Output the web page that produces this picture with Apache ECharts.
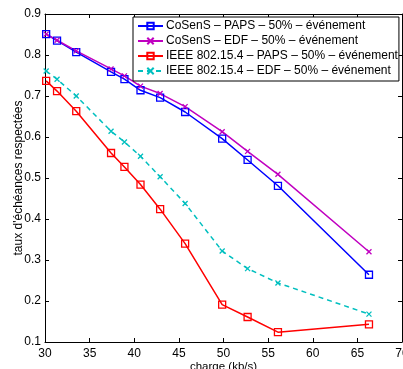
<!DOCTYPE html>
<html>
<head>
<meta charset="utf-8">
<script src="https://cdn.jsdelivr.net/npm/echarts@6/dist/echarts.min.js"></script>
<style>
html,body{margin:0;padding:0;background:#fff;}
#c{width:403px;height:369px;}
</style>
</head>
<body>
<div id="c"></div>
<script>
const xVals = [30.13, 31.35, 33.5, 37.4, 38.9, 40.7, 42.9, 45.7, 49.85, 52.7, 56.1, 66.3];
const cosensPaps = [0.851, 0.835, 0.807, 0.759, 0.741, 0.714, 0.696, 0.661, 0.596, 0.544, 0.481, 0.264];
const cosensEdf = [0.851, 0.836, 0.810, 0.766, 0.749, 0.724, 0.706, 0.674, 0.613, 0.565, 0.509, 0.320];
const ieeePaps = [0.737, 0.712, 0.663, 0.561, 0.527, 0.484, 0.424, 0.340, 0.191, 0.161, 0.124, 0.143];
const ieeeEdf = [0.761, 0.741, 0.700, 0.614, 0.588, 0.553, 0.503, 0.438, 0.322, 0.279, 0.244, 0.168];
const seriesNames = [
  'CoSenS – PAPS – 50% – événement',
  'CoSenS – EDF – 50% – événement',
  'IEEE 802.15.4 – PAPS – 50% – événement',
  'IEEE 802.15.4 – EDF – 50% – événement'
];
const xName = 'charge (kb/s)';
const yName = "taux d'échéances respectées";

const FONT = '"Liberation Sans", Arial, Helvetica, sans-serif';
const xMark = 'path://M0,0L10,10M10,0L0,10';
function pts(ys){ return ys.map((y,i)=>[xVals[i], y]); }
function mk(name, ys, color, symbol, dashed){
  const isX = symbol === 'x';
  return {
    name: name, type: 'line', data: pts(ys),
    symbol: isX ? xMark : 'rect',
    symbolSize: isX ? 5 : 7,
    showAllSymbol: true,
    lineStyle: {color: color, width: 1.5, type: dashed ? [5,4] : 'solid'},
    itemStyle: {color: 'rgba(255,255,255,0)', borderColor: color, borderWidth: 1.3},
    emphasis: {disabled: true},
    animation: false
  };
}
const chart = echarts.init(document.getElementById('c'));
const axisCommon = {
  type: 'value',
  axisLine: {show: true, lineStyle: {color: '#000', width: 1}},
  axisTick: {show: true, inside: true, length: 4, lineStyle: {color: '#000'}},
  splitLine: {show: false}
};
chart.setOption({
  backgroundColor: '#fff',
  animation: false,
  textStyle: {fontFamily: FONT},
  grid: {left: 45, right: 1, top: 14, bottom: 27, containLabel: false, outerBoundsMode: 'none'},
  legend: {
    orient: 'vertical', left: 133, top: 17,
    padding: [2, 1, 3, 4],
    itemGap: 1,
    itemWidth: 25, itemHeight: 8,
    backgroundColor: '#fff', borderColor: '#000', borderWidth: 1, borderRadius: 0,
    textStyle: {fontFamily: FONT, fontSize: 12, color: '#000', lineHeight: 14, padding: [0,0,0,-2]},
    data: seriesNames
  },
  xAxis: [
    Object.assign({}, axisCommon, {
      min: 30, max: 70, interval: 5, position: 'bottom',
      name: xName, nameLocation: 'middle', nameGap: 19, nameMoveOverlap: false,
      nameTextStyle: {fontFamily: FONT, fontSize: 11.5, color: '#000'},
      axisLabel: {fontFamily: FONT, fontSize: 12, color: '#000', margin: 6}
    }),
    Object.assign({}, axisCommon, {
      min: 30, max: 70, interval: 5, position: 'top',
      axisLabel: {show: false}
    })
  ],
  yAxis: [
    Object.assign({}, axisCommon, {
      min: 0.1, max: 0.9, interval: 0.1, position: 'left',
      name: yName, nameLocation: 'middle', nameGap: 20, nameMoveOverlap: false,
      nameTextStyle: {fontFamily: FONT, fontSize: 12, color: '#000'},
      axisLabel: {fontFamily: FONT, fontSize: 12, color: '#000', margin: 4,
        formatter: v => (Math.round(v*10)/10).toString()}
    }),
    Object.assign({}, axisCommon, {
      min: 0.1, max: 0.9, interval: 0.1, position: 'right',
      axisLabel: {show: false}
    })
  ],
  series: [
    mk(seriesNames[0], cosensPaps, '#0000ff', 'rect', false),
    mk(seriesNames[1], cosensEdf, '#c000c0', 'x', false),
    mk(seriesNames[2], ieeePaps, '#ff0000', 'rect', false),
    mk(seriesNames[3], ieeeEdf, '#00bfbf', 'x', true)
  ]
});
</script>
</body>
</html>
